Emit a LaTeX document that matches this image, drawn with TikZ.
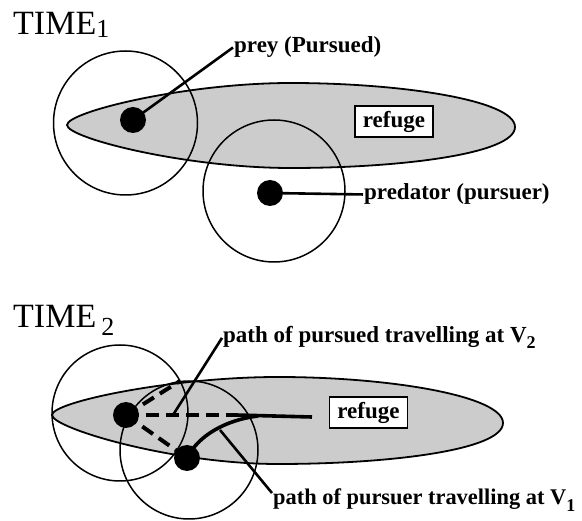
\documentclass[tikz,border=0pt]{standalone}
\usepackage{fontspec}
\setmainfont{Liberation Serif}
\usetikzlibrary{calc}
\newcommand\lowsub[2]{\raisebox{-#1}{\fontsize{18}{18}\selectfont #2}}
\begin{document}
\begin{tikzpicture}[x=1pt,y=-1pt,
 zone/.style={draw, line width=1.8pt, fill=black!20},
 ring/.style={circle, draw, line width=1.5pt, minimum size=#1, inner sep=0},
 dot/.style={circle, fill=black, minimum size=26pt, inner sep=0},
 box/.style={draw, line width=1.8pt, fill=white, inner sep=0, minimum width=78pt, minimum height=31pt, font=\bfseries\fontsize{23}{27}\selectfont},
 lbl/.style={inner sep=1pt, font=\bfseries\fontsize{23}{27}\selectfont},
 title/.style={inner sep=0, font=\fontsize{34}{40}\selectfont},
 leader/.style={line width=2.6pt},
 track/.style={line width=4pt, dash pattern=on 13pt off 7pt},
 chase/.style={line width=3.6pt}]
\fill[white] (0,0) rectangle (582,521);
\useasboundingbox (0,0) rectangle (582,521);
% TIME 1
\node[title, anchor=base west] (t1) at (13,35) {TIME\raisebox{-3pt}{\fontsize{26}{30}\selectfont 1}};
\draw[zone] (67,125) .. controls (67,112) and (185,83) .. (291,83)
  .. controls (400,83) and (515,100) .. (515,127)
  .. controls (515,154) and (400,168) .. (291,168)
  .. controls (185,168) and (67,138) .. cycle;
\node[ring=144pt] (c1a) at (125.5,123) {};
\node[ring=142pt] (c1b) at (274,191) {};
\node[box] (r1) at (394,121.5) {refuge};
\node[dot] (prey1) at (133,120) {};
\node[dot] (pred1) at (270,193) {};
\node[lbl, anchor=base west] (l1) at (233,53) {prey (Pursued)};
\node[lbl, anchor=base west] (l2) at (363,200) {predator (pursuer)};
\draw[leader] (prey1.center) -- (l1.west);
\draw[leader] (pred1.center) -- (l2.west);
% TIME 2
\node[title, anchor=base west] (t2) at (13,328) {TIME\hspace{5pt}\raisebox{-8pt}{\fontsize{26}{30}\selectfont 2}};
\draw[zone] (52,415) .. controls (52,402) and (172,377) .. (278,377)
  .. controls (390,377) and (503,396) .. (503,423)
  .. controls (503,450) and (390,464) .. (278,464)
  .. controls (172,464) and (52,428) .. cycle;
\node[ring=136pt] (c2a) at (120,413) {};
\node[ring=138pt] (c2b) at (189,450) {};
\node[box] (r2) at (368.5,412.5) {refuge};
\node[dot] (prey2) at (126,415) {};
\node[dot] (pred2) at (187,458) {};
\coordinate (up) at (180,381);
\coordinate (mid) at (236,415);
\coordinate (stop) at (312,417);
\coordinate (meet) at (258,416);
\draw[track] (prey2.center) -- (up);
\draw[track] (prey2.center) -- (mid);
\draw[track] (prey2.center) -- (pred2.center);
\draw[chase] (mid) -- (stop);
\draw[chase] (pred2.center) .. controls (198,436) and (225,420) .. (meet);
\coordinate (a1) at (173,415);
\coordinate (a2) at (220,430);
\node[lbl, anchor=base west] (l3) at (222,343) {path of pursued travelling at V\lowsub{6pt}{2}};
\node[lbl, anchor=base west, font=\bfseries\fontsize{22.4}{27}\selectfont] (l4) at (272,505) {path of pursuer travelling at V\lowsub{7pt}{1}};
\draw[leader] (l3.west) -- (a1);
\draw[leader] ($(l4.north west)+(0,5)$) -- (a2);
\end{tikzpicture}
\end{document}
